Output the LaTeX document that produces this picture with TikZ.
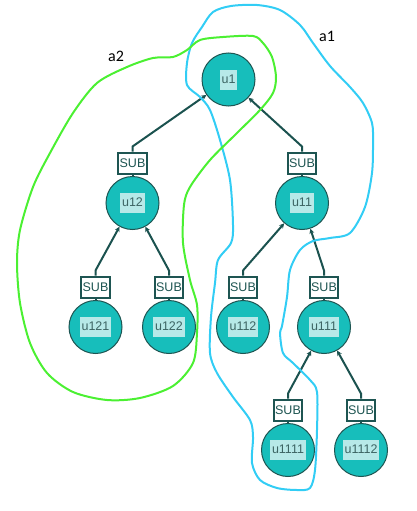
\documentclass[tikz,border=0pt]{standalone}
\usepackage{fontspec}
\setmainfont{Liberation Sans}
\newfontfamily\notefont{Carlito}
\usepackage{tikz}
\usetikzlibrary{arrows.meta}

\definecolor{circfill}{RGB}{23,190,187}
\definecolor{circdraw}{RGB}{30,85,82}
\definecolor{lblfill}{RGB}{183,233,232}
\definecolor{lbltext}{RGB}{60,100,99}
\definecolor{edgecol}{RGB}{27,82,79}
\definecolor{a1col}{RGB}{50,205,245}
\definecolor{a2col}{RGB}{75,240,50}

\setlength{\fboxsep}{2pt}
\newcommand{\ulbl}[1]{\colorbox{lblfill}{\rule[-4.5pt]{0pt}{16pt}#1}}

\begin{document}
\begin{tikzpicture}[x=1pt, y=-1pt,
    unode/.style={circle, fill=circfill, draw=circdraw, line width=1pt, minimum size=53pt, inner sep=0pt, text=lbltext},
    subbox/.style={rectangle, fill=white, draw=circdraw, line width=2pt, minimum width=27pt, minimum height=21pt, inner sep=1.5pt, text=circdraw},
    edge/.style={draw=edgecol, line width=2pt, -{Stealth[length=5pt,width=5pt]}},
    link/.style={draw=edgecol, line width=2pt},
    outline/.style={line width=2pt, line join=round}]
        \useasboundingbox (0,0) rectangle (417,511);
        \fontsize{12.5}{15}\selectfont
        \node[unode](u1) at (228.5, 79.5) {\ulbl{u1}};
        \node[unode](u12) at (132.5, 203) {\ulbl{u12}};
        \node[unode](u11) at (302, 203) {\ulbl{u11}};
        \node[unode](u121) at (95.5, 327) {\ulbl{u121}};
        \node[unode](u122) at (169, 327) {\ulbl{u122}};
        \node[unode](u112) at (243, 327) {\ulbl{u112}};
        \node[unode](u111) at (324, 327) {\ulbl{u111}};
        \node[unode](u1111) at (288, 450) {\ulbl{u1111}};
        \node[unode](u1112) at (361, 450) {\ulbl{u1112}};

        \node[subbox](SUB u12) at (132.5, 163) {SUB};
        \node[subbox](SUB u11) at (302, 163) {SUB};
        \node[subbox](SUB u121) at (95.5, 287) {SUB};
        \node[subbox](SUB u122) at (169, 287) {SUB};
        \node[subbox](SUB u112) at (243, 287) {SUB};
        \node[subbox](SUB u111) at (324, 287) {SUB};
        \node[subbox](SUB u1111) at (288, 410) {SUB};
        \node[subbox](SUB u1112) at (361, 410) {SUB};

        \draw[link] (SUB u12) -- (u12);
        \draw[link] (SUB u11) -- (u11);
        \draw[link] (SUB u121) -- (u121);
        \draw[link] (SUB u122) -- (u122);
        \draw[link] (SUB u112) -- (u112);
        \draw[link] (SUB u111) -- (u111);
        \draw[link] (SUB u1111) -- (u1111);
        \draw[link] (SUB u1112) -- (u1112);

        \draw[edge] (SUB u12.north) -- ++(0,-5) -- (u1);
        \draw[edge] (SUB u11.north) -- ++(0,-5) -- (u1);
        \draw[edge] (SUB u121.north) -- ++(0,-5) -- (u12);
        \draw[edge] (SUB u122.north) -- ++(0,-5) -- (u12);
        \draw[edge] (SUB u112.north) -- ++(0,-5) -- (u11);
        \draw[edge] (SUB u111.north) -- ++(0,-5) -- (u11);
        \draw[edge] (SUB u1111.north) -- ++(0,-5) -- (u111);
        \draw[edge] (SUB u1112.north) -- ++(0,-5) -- (u111);

        % hand drawn outlines
        \draw[outline, a1col] plot[smooth cycle, tension=0.5] coordinates {
            (231,6) (257,5) (280,10) (300,25) (313,43) (330,66) (350,87) (363,103)
            (372,123) (373,143) (372,173) (365,207) (350,233) (330,238) (313,241)
            (300,250) (290,270) (287,297) (282,326) (280,333) (283,353) (293,363)
            (310,380) (317,392) (317,430) (315,470) (310,488) (297,490) (277,488)
            (260,480) (252,463) (253,437) (250,420) (233,397) (217,373) (210,353)
            (211,317) (215,283) (218,260) (231,243) (233,225) (230,180) (220,140)
            (210,110) (200,97) (187,85) (187,63) (192,43) (202,27) (213,12)};
        \draw[outline, a2col] plot[smooth cycle, tension=0.5] coordinates {
            (173,57) (187,50) (200,40) (223,37) (253,36) (263,43) (272,57) (276,77)
            (273,93) (260,110) (237,133) (210,160) (190,187) (184,205) (183,243)
            (190,280) (197,305) (197,333) (193,363) (173,386) (140,398) (107,400)
            (73,392) (47,373) (30,343) (20,303) (17,263) (20,230) (33,187) (50,153)
            (73,113) (97,83) (127,67) (153,58)};

        \node[font=\notefont\fontsize{16}{18}\selectfont](a1) at (327, 36) {a1};
        \node[font=\notefont\fontsize{16}{18}\selectfont](a2) at (116, 56) {a2};
    \end{tikzpicture}
\end{document}
